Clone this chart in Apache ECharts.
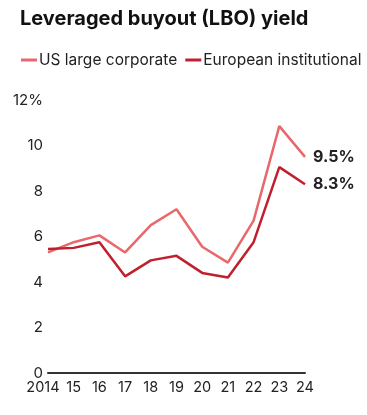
<!DOCTYPE html>
<html><head><meta charset="utf-8">
<script src="https://cdn.jsdelivr.net/npm/echarts@6/dist/echarts.min.js"></script>
<style>html,body{margin:0;padding:0;background:#fff}#c{width:367px;height:415px}</style>
</head><body><div id="c"></div>
<script>
const years = ['2014','15','16','17','18','19','20','21','22','23','24'];
const usLarge = [5.3, 5.75, 6.05, 5.3, 6.5, 7.2, 5.55, 4.85, 6.7, 10.85, 9.5];
const euroInst = [5.45, 5.5, 5.75, 4.25, 4.95, 5.15, 4.4, 4.2, 5.75, 9.05, 8.3];
const yTicks = [0, 2, 4, 6, 8, 10, 12];
const seriesNames = ['US large corporate', 'European institutional'];
const colors = ['#e8686b', '#c0202e'];
const FONT = 'Inter, Roboto, sans-serif';

const chart = echarts.init(document.getElementById('c'), null, {renderer: 'canvas'});
chart.setOption({
  animation: false,
  title: {
    text: 'Leveraged buyout (LBO) yield',
    left: 15, top: 4,
    textStyle: {fontFamily: FONT, fontWeight: 'bold', fontSize: 20, color: '#111'}
  },
  legend: {
    left: 16, top: 47,
    itemWidth: 16, itemHeight: 3, itemGap: 8,
    icon: 'rect',
    data: seriesNames,
    textStyle: {fontFamily: FONT, fontSize: 15.5, color: '#222', padding: [0,0,0,-3]}
  },
  grid: {left: 48, right: 62, top: 100, bottom: 42, containLabel: false},
  xAxis: {
    type: 'category', data: years, boundaryGap: false,
    axisLine: {lineStyle: {color: '#333', width: 2}},
    axisTick: {show: false},
    axisLabel: {
      interval: 0,
      fontFamily: FONT, fontSize: 14.5, color: '#222', margin: 7,
      formatter: (v, i) => i === 0 ? '{a|' + v + '}' : v,
      rich: {a: {fontFamily: FONT, fontSize: 14.5, color: '#222', padding: [0, 10, 0, 0]}}
    }
  },
  yAxis: {
    type: 'value', min: 0, max: 12, interval: 2,
    axisLine: {show: false}, axisTick: {show: false}, splitLine: {show: false},
    axisLabel: {
      fontFamily: FONT, fontSize: 15, color: '#222', margin: 5,
      verticalAlign: 'middle', padding: [0, 0, 5, 0],
      formatter: v => v === 12 ? '12%' : String(v)
    }
  },
  series: [
    {name: seriesNames[0], type: 'line', data: usLarge, symbol: 'none',
     lineStyle: {color: colors[0], width: 2.5}, itemStyle: {color: colors[0]},
     endLabel: {show: true, formatter: p => p.value.toFixed(1) + '%', distance: 8,
       fontFamily: FONT, fontWeight: 'bold', fontSize: 16, color: '#222'}},
    {name: seriesNames[1], type: 'line', data: euroInst, symbol: 'none',
     lineStyle: {color: colors[1], width: 2.5}, itemStyle: {color: colors[1]},
     endLabel: {show: true, formatter: p => p.value.toFixed(1) + '%', distance: 8,
       fontFamily: FONT, fontWeight: 'bold', fontSize: 16, color: '#222'}}
  ]
});
</script></body></html>
